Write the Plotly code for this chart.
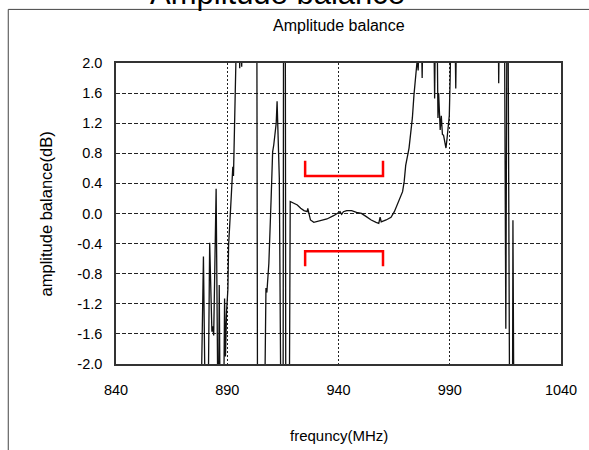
import plotly.graph_objects as go

# ---------------- data ----------------
freq_mhz = [
    840.0, 878.2, 879.3, 880.1, 881.4, 882.1, 883.1, 883.5, 883.9, 885.0,
    885.8, 886.1, 886.4, 886.8, 888.4, 888.8, 889.2, 889.7, 890.3, 890.6,
    891.3, 892.0, 892.5, 892.8, 893.2, 893.5, 893.9, 894.3, 895.3, 895.6,
    895.9, 896.5, 896.8, 903.3, 903.6, 906.8, 907.4, 907.8, 908.7, 909.7,
    910.4, 910.9, 911.5, 912.0, 912.4, 913.4, 914.1, 915.1, 915.3, 916.1,
    916.3, 917.9, 918.3, 920.0, 921.5, 923.0, 924.5, 925.9, 926.2, 926.7,
    927.4, 928.9, 931.8, 934.8, 937.8, 940.0, 940.7, 941.4, 942.2, 943.7,
    945.9, 948.1, 950.3, 952.5, 954.7, 956.9, 958.1, 958.7, 959.2, 961.4,
    963.6, 965.1, 966.6, 967.3, 968.0, 968.8, 969.5, 970.2, 971.7, 973.2,
    973.9, 975.0, 975.4, 975.8, 976.6, 977.3, 977.6, 978.0, 982.8, 983.2,
    983.6, 984.4, 984.7, 985.0, 985.4, 985.7, 986.2, 986.7, 987.2, 987.7,
    988.3, 988.8, 989.4, 989.8, 990.2, 990.6, 992.3, 992.7, 993.1, 1011.8,
    1012.0, 1012.3, 1014.6, 1015.2, 1015.7, 1016.2, 1016.9, 1018.2, 1018.4, 1018.8,
    1040.0,
]
balance_db = [
    -2.6, -2.6, -0.57, -2.6, -2.6, -0.39, -1.57, -1.50, -1.62, 0.33,
    -2.6, -2.6, -0.95, -2.6, -2.6, -1.13, -1.9, -1.3, -1.0, -0.42,
    -0.05, 0.42, 0.62, 0.5, 1.11, 1.3, 2.0, 2.6, 2.6, 1.93,
    2.6, 1.95, 2.6, 2.6, -2.6, -2.6, -0.99, -1.05, -0.66, 0.18,
    0.82, 0.91, 1.04, 1.2, 1.49, 0.47, -2.6, -2.6, 2.6, 2.6,
    -2.6, -2.6, 0.16, 0.135, 0.113, 0.069, 0.038, 0.024, 0.069, 0.002,
    -0.086, -0.117, -0.10, -0.073, -0.029, 0.010, 0.024, -0.011, 0.024, 0.038,
    0.038, 0.015, 0.002, -0.042, -0.086, -0.117, -0.13, -0.05, -0.11, -0.086,
    -0.051, 0.024, 0.135, 0.18, 0.223, 0.29, 0.42, 0.64, 0.87, 1.27,
    1.57, 1.88, 2.05, 1.9, 2.6, 2.3, 1.80, 2.6, 2.6, 1.53,
    2.6, 2.2, 1.27, 1.6, 1.25, 1.11, 1.3, 1.05, 1.04, 0.95,
    0.87, 1.0, 1.18, 1.3, 1.83, 2.6, 2.6, 1.66, 2.6, 2.6,
    1.73, 2.6, 2.6, -1.53, 2.6, 2.6, -2.6, -2.6, -0.09, -2.6,
    -2.6,
]

bracket_x = [925, 925, 960, 960]
upper_bracket_y = [0.7, 0.5, 0.5, 0.7]
lower_bracket_y = [-0.7, -0.5, -0.5, -0.7]

x_tick_vals = [840, 890, 940, 990, 1040]
x_tick_text = ["840", "890", "940", "990", "1040"]
y_tick_vals = [2.0, 1.6, 1.2, 0.8, 0.4, 0.0, -0.4, -0.8, -1.2, -1.6, -2.0]
y_tick_text = ["2.0", "1.6", "1.2", "0.8", "0.4", "0.0", "-0.4", "-0.8", "-1.2", "-1.6", "-2.0"]

outer_title = "Amplitude balance"
inner_title = "Amplitude balance"
x_title = "frequncy(MHz)"
y_title = "amplitude balance(dB)"

FONT = "Liberation Sans, Arial, sans-serif"

fig = go.Figure()
fig.add_trace(go.Scatter(x=freq_mhz, y=balance_db, mode="lines",
                         line=dict(color="#111111", width=1.3), hoverinfo="skip"))
fig.add_trace(go.Scatter(x=bracket_x, y=upper_bracket_y, mode="lines",
                         line=dict(color="#ff0000", width=2.5), hoverinfo="skip"))
fig.add_trace(go.Scatter(x=bracket_x, y=lower_bracket_y, mode="lines",
                         line=dict(color="#ff0000", width=2.5), hoverinfo="skip"))

fig.update_layout(
    width=589, height=450,
    margin=dict(l=116, r=22, t=63, b=86),
    paper_bgcolor="white", plot_bgcolor="white",
    showlegend=False,
    font=dict(family=FONT, color="#000000", size=14),
    xaxis=dict(
        range=[840, 1040], tickvals=x_tick_vals, ticktext=x_tick_text,
        showgrid=True, gridcolor="#222222", gridwidth=1, griddash="2px,2px",
        zeroline=False, showline=True, linecolor="#333333", linewidth=1.5, mirror=True,
        ticks="", ticklabelstandoff=12, tickfont=dict(size=14.5, family=FONT),
        fixedrange=True,
    ),
    yaxis=dict(
        range=[-2, 2], tickvals=y_tick_vals, ticktext=y_tick_text,
        showgrid=True, gridcolor="#222222", gridwidth=1, griddash="4px,2px",
        zeroline=False, showline=True, linecolor="#333333", linewidth=1.5, mirror=True,
        ticks="", ticklabelstandoff=9, tickfont=dict(size=14.5, family=FONT),
        fixedrange=True,
    ),
    annotations=[
        dict(text=outer_title, xref="paper", yref="paper", x=(280 - 116) / 451, y=(364 + 6.4) / 301,
             xanchor="center", yanchor="middle", showarrow=False, font=dict(size=31, family=FONT)),
        dict(text=inner_title, xref="paper", yref="paper", x=0.5, y=(364 - 26) / 301,
             xanchor="center", yanchor="middle", showarrow=False, font=dict(size=16, family=FONT)),
        dict(text=x_title, xref="paper", yref="paper", x=0.5, y=(364 - 435) / 301,
             xanchor="center", yanchor="middle", showarrow=False, font=dict(size=15, family=FONT)),
        dict(text=y_title, xref="paper", yref="paper", x=(45 - 116) / 451, y=0.5, textangle=-90,
             xanchor="center", yanchor="middle", showarrow=False, font=dict(size=16.5, family=FONT)),
    ],
    shapes=[
        dict(type="line", xref="paper", yref="paper", x0=(6.8 - 116) / 451, x1=1.2,
             y0=(364 - 9.4) / 301, y1=(364 - 9.4) / 301, line=dict(color="#444444", width=1)),
        dict(type="line", xref="paper", yref="paper", x0=(6.8 - 116) / 451, x1=(6.8 - 116) / 451,
             y0=(364 - 9.4) / 301, y1=-0.4, line=dict(color="#444444", width=1)),
    ],
)

fig.write_html("out.html", config={"displayModeBar": False},
               post_script="document.body.style.margin='0px';")
